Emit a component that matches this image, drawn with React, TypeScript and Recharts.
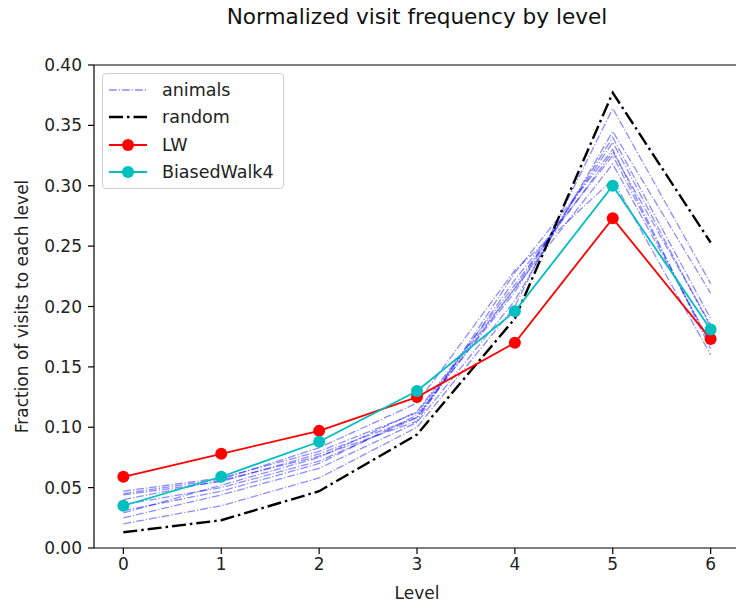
import React from "react";
import {
  LineChart,
  Line,
  XAxis,
  YAxis,
  ReferenceLine,
  Legend,
} from "recharts";

const levels = [0, 1, 2, 3, 4, 5, 6];

const randomWalk = [0.013, 0.023, 0.047, 0.094, 0.19, 0.377, 0.253];
const levyWalk = [0.059, 0.078, 0.097, 0.125, 0.17, 0.273, 0.173];
const biasedWalk4 = [0.035, 0.059, 0.088, 0.13, 0.196, 0.3, 0.181];

// one row per animal, values per level
const animals = [
  [0.02, 0.035, 0.058, 0.1, 0.2, 0.364, 0.219],
  [0.047, 0.058, 0.08, 0.112, 0.215, 0.318, 0.17],
  [0.044, 0.055, 0.078, 0.108, 0.222, 0.325, 0.168],
  [0.04, 0.056, 0.076, 0.105, 0.228, 0.33, 0.165],
  [0.036, 0.05, 0.072, 0.108, 0.215, 0.336, 0.183],
  [0.031, 0.047, 0.07, 0.11, 0.212, 0.34, 0.19],
  [0.029, 0.052, 0.075, 0.113, 0.218, 0.328, 0.185],
  [0.025, 0.044, 0.066, 0.104, 0.205, 0.345, 0.211],
  [0.045, 0.057, 0.083, 0.12, 0.23, 0.305, 0.16],
];

const yTicks = [0, 0.05, 0.1, 0.15, 0.2, 0.25, 0.3, 0.35, 0.4];

const FONT = "'DejaVu Sans', sans-serif";

const data = levels.map((level, i) => {
  const row: Record<string, number> = {
    level,
    random: randomWalk[i],
    lw: levyWalk[i],
    bw: biasedWalk4[i],
  };
  animals.forEach((a, k) => {
    row[`a${k}`] = a[i];
  });
  return row;
});

const legendItems = [
  { label: "animals", color: "#0000ff", opacity: 0.45, dash: "7.8 2 1.2 2", width: 1.3, dot: false },
  { label: "random", color: "#000000", opacity: 1, dash: "14 4 2.5 4", width: 2.4, dot: false },
  { label: "LW", color: "#ff0000", opacity: 1, dash: undefined, width: 1.8, dot: true },
  { label: "BiasedWalk4", color: "#00bfbf", opacity: 1, dash: undefined, width: 1.8, dot: true },
];

function LegendBox() {
  return (
    <div
      style={{
        border: "1px solid #d0d0d0",
        borderRadius: 4,
        background: "rgba(255,255,255,0.8)",
        padding: "2px 6px 2px 5px",
        width: 182,
        boxSizing: "border-box",
      }}
    >
      {legendItems.map((it) => (
        <div
          key={it.label}
          style={{ display: "flex", alignItems: "center", height: 27.5, fontFamily: FONT, fontSize: 17.5 }}
        >
          <svg width={40} height={14} style={{ marginRight: 14 }}>
            <line
              x1={1}
              y1={7}
              x2={39}
              y2={7}
              stroke={it.color}
              strokeOpacity={it.opacity}
              strokeWidth={it.width}
              strokeDasharray={it.dash}
            />
            {it.dot && <circle cx={20} cy={7} r={6} fill={it.color} />}
          </svg>
          <span style={{ color: "#222" }}>{it.label}</span>
        </div>
      ))}
    </div>
  );
}

function YLabel(props: any) {
  const vb = props.viewBox || {};
  const cy = vb.y + vb.height / 2;
  return (
    <text
      x={22}
      y={cy}
      transform={`rotate(-90, 22, ${cy})`}
      textAnchor="middle"
      dominantBaseline="central"
      fontFamily={FONT}
      fontSize={17}
      fill="#222"
    >
      Fraction of visits to each level
    </text>
  );
}

export default function App() {
  const tickStyle = { fontSize: 17, fill: "#222", fontFamily: FONT };
  return (
    <div
      style={{
        position: "absolute",
        left: 0,
        top: 0,
        width: 736,
        height: 610,
        overflow: "hidden",
        background: "#fff",
      }}
    >
      <div
        style={{
          position: "absolute",
          left: 94,
          width: 646,
          top: 4,
          textAlign: "center",
          fontFamily: FONT,
          fontSize: 21.6,
          color: "#111",
        }}
      >
        Normalized visit frequency by level
      </div>
      <LineChart
        width={760}
        height={610}
        data={data}
        margin={{ top: 65, right: 20, left: 10, bottom: 7 }}
      >
        <XAxis
          dataKey="level"
          type="number"
          domain={[-0.3, 6.3]}
          ticks={levels}
          allowDataOverflow
          height={55}
          tick={tickStyle}
          tickSize={6}
          tickMargin={4}
          stroke="#000"
          strokeWidth={1.2}
          label={{
            value: "Level",
            position: "insideBottom",
            offset: 4,
            fontSize: 17,
            fill: "#222",
            fontFamily: FONT,
          }}
        />
        <YAxis
          domain={[0, 0.4]}
          ticks={yTicks}
          width={84}
          tick={tickStyle}
          tickSize={6}
          tickMargin={6}
          stroke="#000"
          strokeWidth={1.2}
          tickFormatter={(v: number) => v.toFixed(2)}
          label={<YLabel />}
        />
        <ReferenceLine y={0.4} stroke="#000" strokeWidth={1.2} />
        <Legend
          layout="vertical"
          align="center"
          verticalAlign="middle"
          content={() => <LegendBox />}
          wrapperStyle={{ left: 102, top: 73, width: 184 }}
        />
        {animals.map((_, k) => (
          <Line
            key={k}
            dataKey={`a${k}`}
            type="linear"
            stroke="#0000ff"
            strokeOpacity={0.45}
            strokeWidth={1.3}
            strokeDasharray="7.8 2 1.2 2"
            dot={false}
            isAnimationActive={false}
            legendType="none"
          />
        ))}
        <Line
          dataKey="random"
          type="linear"
          stroke="#000"
          strokeWidth={2.4}
          strokeDasharray="14 4 2.5 4"
          dot={false}
          isAnimationActive={false}
        />
        <Line
          dataKey="lw"
          type="linear"
          stroke="#ff0000"
          strokeWidth={1.8}
          dot={{ r: 6, fill: "#ff0000", stroke: "none" }}
          isAnimationActive={false}
        />
        <Line
          dataKey="bw"
          type="linear"
          stroke="#00bfbf"
          strokeWidth={1.8}
          dot={{ r: 6, fill: "#00bfbf", stroke: "none" }}
          isAnimationActive={false}
        />
      </LineChart>
    </div>
  );
}
